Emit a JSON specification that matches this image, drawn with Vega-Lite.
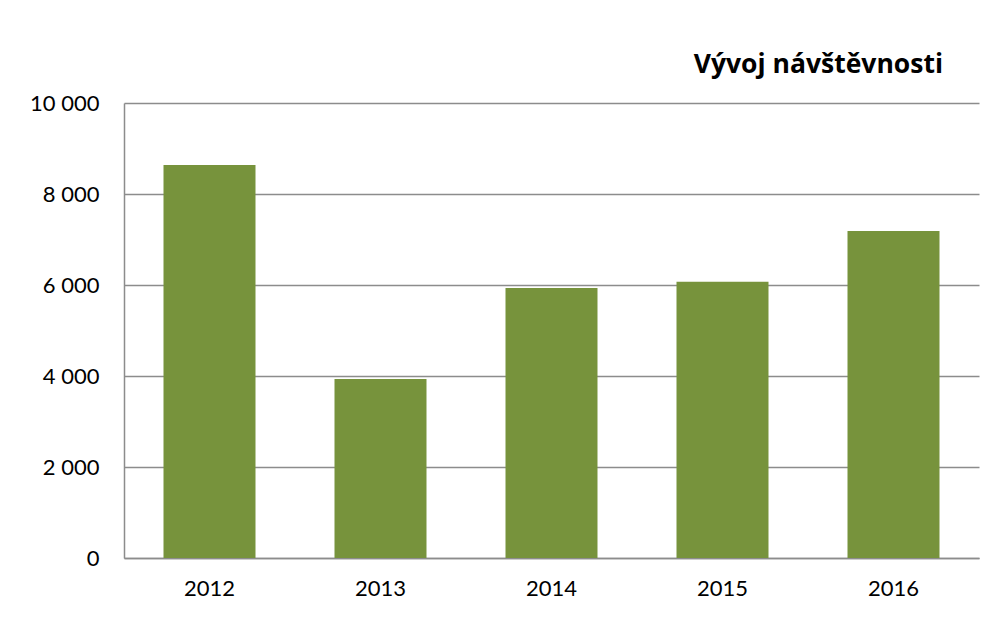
{
  "$schema": "https://vega.github.io/schema/vega-lite/v6.json",
  "width": 855,
  "height": 455,
  "autosize": {"type": "none"},
  "padding": {"left": 124, "top": 103, "right": 16, "bottom": 61},
  "background": "white",
  "title": {
    "text": "Vývoj návštěvnosti",
    "anchor": "end",
    "dx": -36,
    "offset": 14,
    "font": "Open Sans",
    "fontSize": 26.5,
    "fontWeight": "bold",
    "color": "black"
  },
  "data": {
    "values": [
      {"rok": "2012", "navstevnost": 8640},
      {"rok": "2013", "navstevnost": 3935},
      {"rok": "2014", "navstevnost": 5935},
      {"rok": "2015", "navstevnost": 6070},
      {"rok": "2016", "navstevnost": 7185}
    ]
  },
  "mark": {"type": "bar", "color": "#77933C"},
  "encoding": {
    "x": {
      "field": "rok",
      "type": "ordinal",
      "scale": {"paddingInner": 0.462, "paddingOuter": 0.231},
      "axis": {
        "title": null,
        "labelAngle": 0,
        "ticks": false,
        "labelPadding": 20,
        "labelFont": "Lato",
        "labelFontSize": 22,
        "labelColor": "black",
        "domainColor": "#8c8c8c",
        "domainWidth": 1.5
      }
    },
    "y": {
      "field": "navstevnost",
      "type": "quantitative",
      "scale": {"domain": [0, 10000], "nice": false},
      "axis": {
        "title": null,
        "values": [0, 2000, 4000, 6000, 8000, 10000],
        "format": ",d",
        "labelExpr": "replace(datum.label, ',', ' ')",
        "ticks": false,
        "labelPadding": 25,
        "labelFont": "Lato",
        "labelFontSize": 22,
        "labelColor": "black",
        "domainColor": "#8c8c8c",
        "domainWidth": 1.5,
        "grid": true,
        "gridColor": "#8c8c8c",
        "gridWidth": 1.5
      }
    }
  },
  "config": {"view": {"stroke": null}}
}
